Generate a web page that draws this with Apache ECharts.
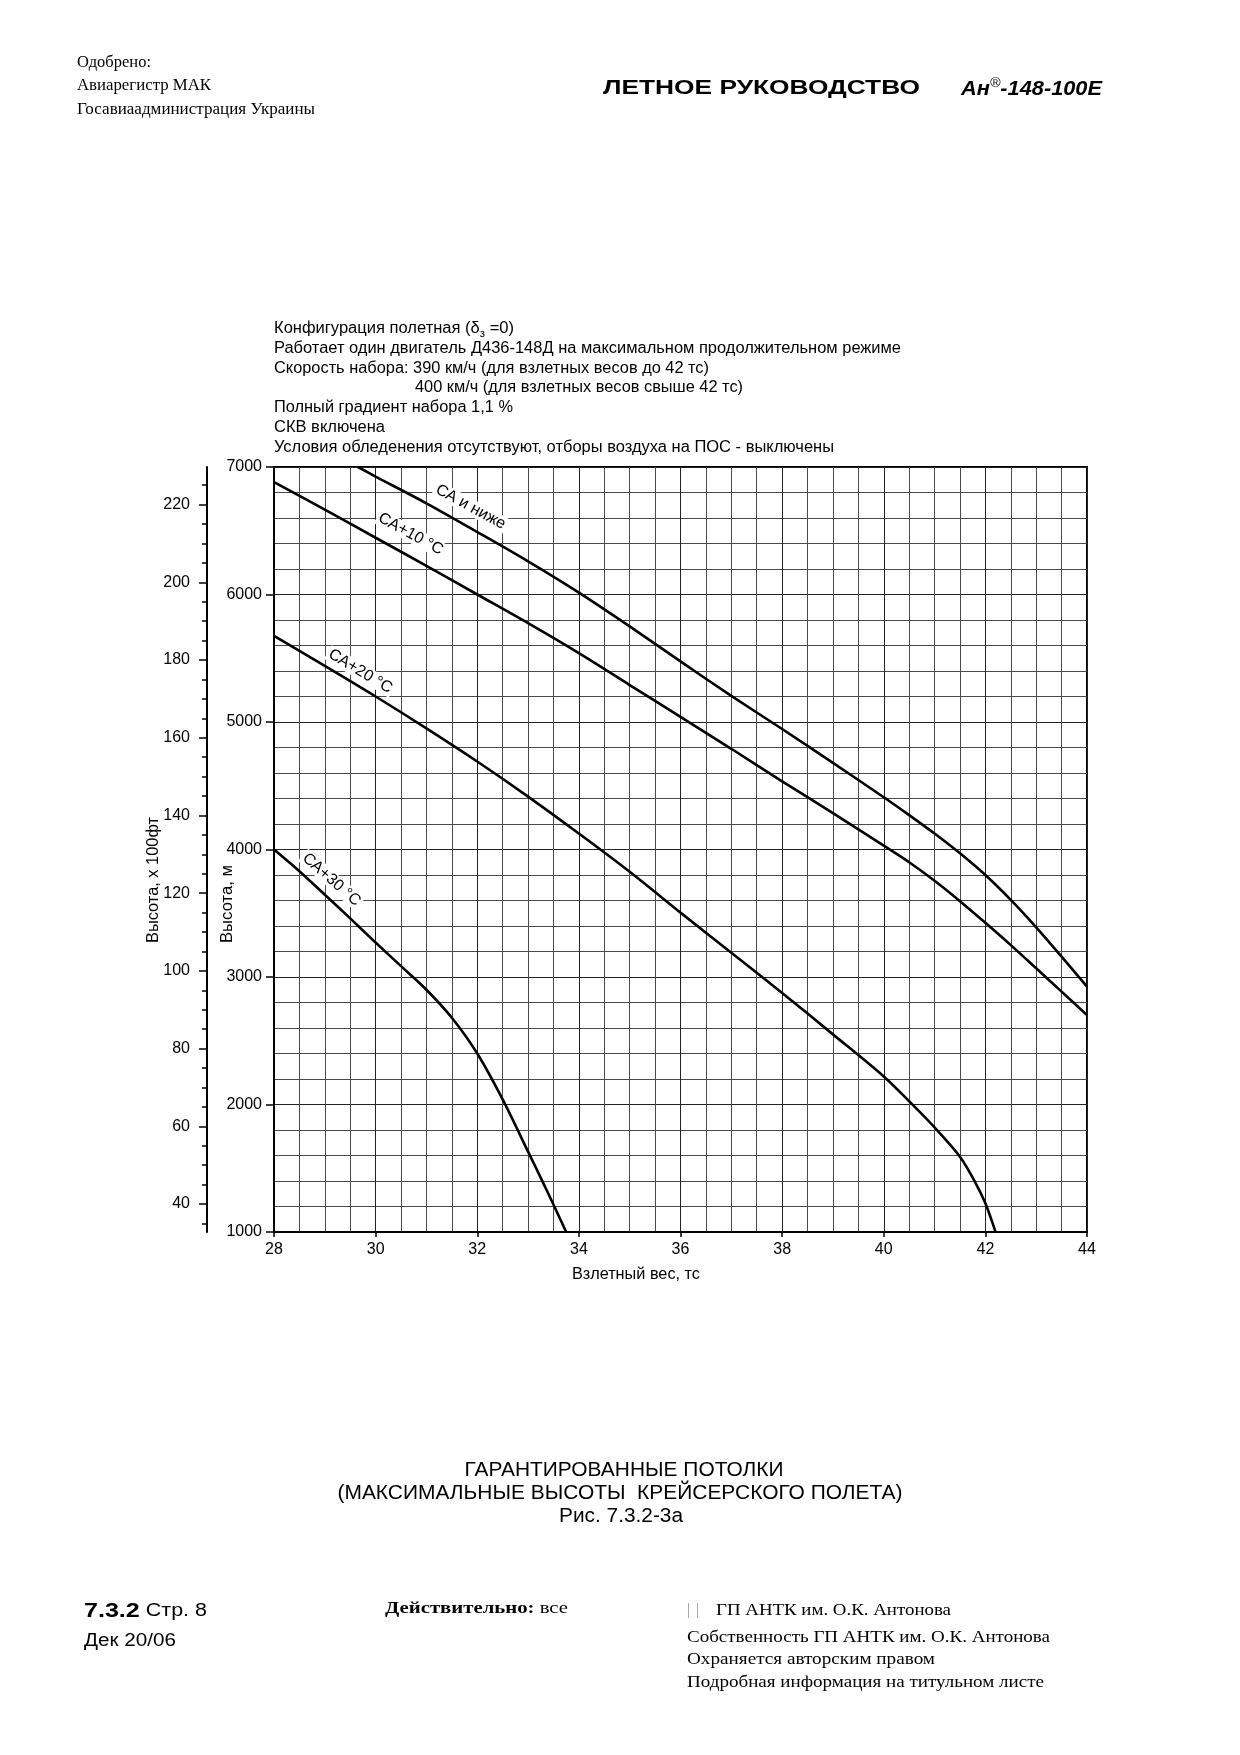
<!DOCTYPE html>
<html><head><meta charset="utf-8">
<script src="https://cdn.jsdelivr.net/npm/echarts@6/dist/echarts.min.js"></script>
<style>html,body{margin:0;padding:0;background:#fff}#c{width:1240px;height:1755px}</style>
</head><body><div id="c"></div>
<script>
// ---------------- DATA ----------------
const xTickValues = [28, 30, 32, 34, 36, 38, 40, 42, 44];
const altTickValues = [1000, 2000, 3000, 4000, 5000, 6000, 7000];
const ftLabelValues = [40, 60, 80, 100, 120, 140, 160, 180, 200, 220];
const ftMinorTickValues = [35,40,45,50,55,60,65,70,75,80,85,90,95,100,105,110,115,120,125,130,135,140,145,150,155,160,165,170,175,180,185,190,195,200,205,210,215,220,225];

const curveNames = ['СА и ниже', 'СА+10 °С', 'СА+20 °С', 'СА+30 °С'];

const weight1 = [29.65, 30, 31, 32, 33, 34, 35, 36, 37, 38, 39, 40, 40.5, 41, 41.5, 42, 42.5, 43, 43.5, 44];
const alt1    = [7000, 6925, 6715, 6490, 6260, 6015, 5750, 5475, 5205, 4945, 4680, 4410, 4270, 4125, 3970, 3800, 3605, 3390, 3160, 2924];

const weight2 = [28, 29, 30, 31, 32, 33, 34, 35, 36, 37, 38, 39, 40, 40.5, 41, 41.5, 42, 42.5, 43, 43.5, 44];
const alt2    = [6882, 6665, 6445, 6225, 6000, 5775, 5540, 5290, 5040, 4790, 4535, 4285, 4030, 3900, 3755, 3595, 3425, 3250, 3068, 2885, 2701];

const weight3 = [28, 29, 30, 31, 32, 33, 34, 35, 36, 37, 38, 39, 40, 40.5, 41, 41.5, 41.8, 42, 42.2];
const alt3    = [5675, 5440, 5200, 4950, 4690, 4415, 4125, 3825, 3505, 3190, 2875, 2550, 2220, 2025, 1820, 1590, 1390, 1225, 1000];

const weight4 = [28, 28.5, 29, 29.5, 30, 30.5, 31, 31.5, 32, 32.5, 33, 33.4, 33.75];
const alt4    = [4000, 3830, 3645, 3460, 3270, 3085, 2900, 2680, 2400, 2040, 1630, 1300, 1000];

const M_TO_100FT = 3.28084 / 100;

// ---------------- LAYOUT ----------------
const SANS = '"Liberation Sans", Arial, sans-serif';
const SERIF = '"Liberation Serif", "Times New Roman", serif';
const labelLayout = [
  { x: 31.87, y: 6686, rot: -0.50 },
  { x: 30.69, y: 6474, rot: -0.50 },
  { x: 29.70, y: 5397, rot: -0.54 },
  { x: 29.13, y: 3763, rot: -0.72 }
];

const ctx = document.createElement('canvas').getContext('2d');
function fnt(size, weight, style, fam) { return (style || 'normal') + ' ' + (weight || 'normal') + ' ' + size + 'px ' + fam; }
function mw(text, font) { ctx.font = font; return ctx.measureText(text).width; }

function txt(text, x, y, font, width, align, rot, extra) {
  let sx = 1;
  if (width) sx = width / mw(text, font);
  const st = Object.assign({ text: text, font: font, fill: '#000', align: align || 'left', verticalAlign: 'middle',
    textAlign: align || 'left', textVerticalAlign: 'middle' }, extra || {});
  return { type: 'text', x: x, y: y, scaleX: sx, rotation: rot || 0, z: 100, silent: true, style: st };
}
function seq(parts, x, y, width) {
  const ws = parts.map(p => mw(p.text, p.font));
  const total = ws.reduce((a, b) => a + b, 0);
  const sx = width ? width / total : 1;
  let cx = x;
  return parts.map((p, i) => {
    const el = { type: 'text', x: cx, y: y + (p.dy || 0), scaleX: sx, z: 100, silent: true,
      style: { text: p.text, font: p.font, fill: '#000', align: 'left', verticalAlign: 'middle', textAlign: 'left', textVerticalAlign: 'middle' } };
    cx += ws[i] * sx;
    return el;
  });
}

const F16 = fnt(16, 'normal', 'normal', SANS);
const SER = fnt(16, 'normal', 'normal', SERIF);

let graphics = [];
graphics.push(txt('Одобрено:', 77, 63, SER, 74));
graphics.push(txt('Авиарегистр МАК', 77, 86, SER, 134));
graphics.push(txt('Госавиаадминистрация Украины', 77, 110, SER, 238));
graphics.push(txt('ЛЕТНОЕ РУКОВОДСТВО', 603, 88, fnt(21, 'bold', 'normal', SANS), 317));
graphics = graphics.concat(seq([
  { text: 'Ан', font: fnt(20, 'bold', 'italic', SANS) },
  { text: '®', font: fnt(13, 'normal', 'italic', SANS), dy: -6 },
  { text: '-148-100Е', font: fnt(20, 'bold', 'italic', SANS) }
], 961, 89, 141));

graphics = graphics.concat(seq([
  { text: 'Конфигурация полетная (δ', font: F16 },
  { text: 'з', font: fnt(11, 'normal', 'normal', SANS), dy: 5 },
  { text: ' =0)', font: F16 }
], 274, 329, 240));
graphics.push(txt('Работает один двигатель Д436-148Д на максимальном продолжительном режиме', 274, 349, F16, 627));
graphics.push(txt('Скорость набора: 390 км/ч (для взлетных весов до 42 тс)', 274, 369, F16, 435));
graphics.push(txt('400 км/ч (для взлетных весов свыше 42 тс)', 415, 388, F16, 328));
graphics.push(txt('Полный градиент набора 1,1 %', 274, 408, F16, 239));
graphics.push(txt('СКВ включена', 274, 428, F16, 111));
graphics.push(txt('Условия обледенения отсутствуют, отборы воздуха на ПОС - выключены', 274, 448, F16, 560));

graphics.push(txt('Высота, x 100фт', 154, 880, F16, 126, 'center', Math.PI / 2));
graphics.push(txt('Высота, м', 228, 904, F16, 78, 'center', Math.PI / 2));
graphics.push(txt('Взлетный вес, тс', 636, 1275, F16, 128, 'center'));

const F20 = fnt(20, 'normal', 'normal', SANS);
graphics.push(txt('ГАРАНТИРОВАННЫЕ ПОТОЛКИ', 624, 1470, F20, 319, 'center'));
graphics.push(txt('(МАКСИМАЛЬНЫЕ ВЫСОТЫ  КРЕЙСЕРСКОГО ПОЛЕТА)', 620, 1493, F20, 565, 'center'));
graphics.push(txt('Рис. 7.3.2-3а', 621, 1516, F20, 124, 'center'));

graphics = graphics.concat(seq([
  { text: '7.3.2', font: fnt(21, 'bold', 'normal', SANS) },
  { text: ' Стр. 8', font: fnt(18, 'normal', 'normal', SANS) }
], 84, 1611, 123));
graphics.push(txt('Дек 20/06', 84, 1641, fnt(18, 'normal', 'normal', SANS), 92));
graphics = graphics.concat(seq([
  { text: 'Действительно:', font: fnt(17, 'bold', 'normal', SERIF) },
  { text: ' все', font: fnt(17, 'normal', 'normal', SERIF) }
], 385, 1609, 183));
graphics.push({ type: 'line', z: 100, silent: true, shape: { x1: 688.5, y1: 1603, x2: 688.5, y2: 1618 }, style: { stroke: '#aaa', lineWidth: 1 } });
graphics.push({ type: 'line', z: 100, silent: true, shape: { x1: 697.5, y1: 1603, x2: 697.5, y2: 1618 }, style: { stroke: '#aaa', lineWidth: 1 } });
const SER17 = fnt(17, 'normal', 'normal', SERIF);
graphics.push(txt('ГП АНТК им. О.К. Антонова', 716, 1611, SER17, 235));
graphics.push(txt('Собственность ГП АНТК им. О.К. Антонова', 687, 1638, SER17, 363));
graphics.push(txt('Охраняется авторским правом', 687, 1660, SER17, 248));
graphics.push(txt('Подробная информация на титульном листе', 687, 1683, SER17, 357));

// ---------------- CHART ----------------
const chart = echarts.init(document.getElementById('c'), null, { renderer: 'canvas' });
const mkData = (xs, ys) => xs.map((x, i) => [x, ys[i]]);
const lineSeries = [[weight1, alt1], [weight2, alt2], [weight3, alt3], [weight4, alt4]].map((d, i) => ({
  name: curveNames[i], type: 'line', data: mkData(d[0], d[1]), xAxisIndex: 0, yAxisIndex: 0,
  smooth: 0.3, showSymbol: false, symbol: 'none', clip: true,
  lineStyle: { color: '#000', width: 2.6 }, z: 10, silent: true
}));

const ftMin = altTickValues[0] * M_TO_100FT;
const ftMax = altTickValues[altTickValues.length - 1] * M_TO_100FT;
const axisLbl = { color: '#000', fontSize: 16, fontFamily: SANS, formatter: v => String(v) };

chart.setOption({
  backgroundColor: '#fff',
  animation: false,
  grid: { left: 274, top: 467, width: 813, height: 765, show: true, borderColor: '#000', borderWidth: 2, backgroundColor: 'transparent' },
  xAxis: {
    type: 'value', min: xTickValues[0], max: xTickValues[xTickValues.length - 1], interval: 2,
    axisLine: { show: true, lineStyle: { color: '#000', width: 2 } },
    axisTick: { show: true, length: 5, lineStyle: { color: '#000', width: 1.5 } },
    axisLabel: Object.assign({ margin: 10 }, axisLbl),
    splitLine: { show: true, lineStyle: { color: '#222', width: 1 } },
    minorTick: { show: false, splitNumber: 4 },
    minorSplitLine: { show: true, lineStyle: { color: '#4a4a4a', width: 1 } }
  },
  yAxis: [
    {
      type: 'value', min: altTickValues[0], max: altTickValues[altTickValues.length - 1], interval: 1000, position: 'left',
      axisLine: { show: true, lineStyle: { color: '#000', width: 2 } },
      axisTick: { show: true, length: 8, lineStyle: { color: '#000', width: 1.5 } },
      axisLabel: Object.assign({ margin: 12 }, axisLbl),
      splitLine: { show: true, lineStyle: { color: '#222', width: 1 } },
      minorTick: { show: false, splitNumber: 5 },
      minorSplitLine: { show: true, lineStyle: { color: '#4a4a4a', width: 1 } }
    },
    {
      type: 'value', min: ftMin, max: ftMax, position: 'left', offset: 67,
      axisLine: { show: true, onZero: false, lineStyle: { color: '#000', width: 2 } },
      axisTick: { show: true, length: 8, customValues: ftLabelValues, lineStyle: { color: '#000', width: 1.5 } },
      axisLabel: Object.assign({ margin: 17, customValues: ftLabelValues }, axisLbl),
      splitLine: { show: false }
    },
    {
      type: 'value', min: ftMin, max: ftMax, position: 'left', offset: 67,
      axisLine: { show: false },
      axisTick: { show: true, length: 5, customValues: ftMinorTickValues, lineStyle: { color: '#000', width: 1.5 } },
      axisLabel: { show: false },
      splitLine: { show: false }
    }
  ],
  series: lineSeries,
  graphic: graphics
});

const labelEls = curveNames.map((name, i) => {
  const L = labelLayout[i];
  const p = chart.convertToPixel({ gridIndex: 0 }, [L.x, L.y]);
  return txt(name, p[0], p[1], F16, null, 'center', L.rot, { backgroundColor: '#fff', padding: [0, 2, 0, 2] });
});
chart.setOption({ graphic: graphics.concat(labelEls) });
</script></body></html>
